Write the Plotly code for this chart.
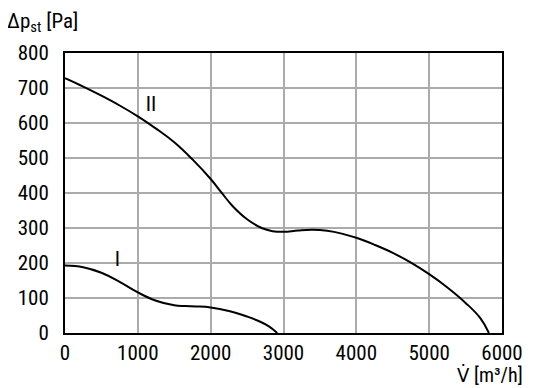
import plotly.graph_objects as go

# Curve II
x2 = [0, 250, 500, 750, 1000, 1250, 1500, 1750, 2000, 2150, 2300, 2500, 2700, 2850, 3000, 3200, 3400, 3600, 3800, 4000, 4250, 4500, 4750, 5000, 5250, 5500, 5700, 5820]
y2 = [728, 704, 678, 650, 619, 584, 545, 496, 440, 401, 363, 325, 300, 291, 289, 293, 295, 292, 284, 272, 252, 229, 201, 168, 130, 86, 43, 0]
# Curve I
x1 = [0, 250, 500, 750, 1000, 1250, 1500, 1650, 1800, 2000, 2250, 2500, 2650, 2800, 2914]
y1 = [193, 188, 172, 146, 116, 92, 79, 77, 76, 73, 63, 47, 35, 19, 0]

curve_labels = ["II", "I"]
label_x = [1181, 718]
label_y = [650, 206]

xticks = [0, 1000, 2000, 3000, 4000, 5000, 6000]
yticks = [0, 100, 200, 300, 400, 500, 600, 700, 800]

FONT = "Liberation Sans Narrow, Roboto Condensed, DejaVu Sans Condensed, Arial Narrow, sans-serif"
FS = 21

fig = go.Figure()
line_style = dict(color="black", width=2, shape="spline", smoothing=1.2)
fig.add_trace(go.Scatter(x=x2, y=y2, mode="lines", line=line_style, showlegend=False))
fig.add_trace(go.Scatter(x=x1, y=y1, mode="lines", line=line_style, showlegend=False))
fig.add_trace(go.Scatter(x=label_x, y=label_y, mode="text", text=curve_labels,
                         textfont=dict(family=FONT, size=FS, color="black"), showlegend=False))

axis_common = dict(showgrid=True, gridcolor="#ababab", gridwidth=1.5, zeroline=False,
                   showline=True, linecolor="black", linewidth=2, mirror=True,
                   ticks="", automargin=False,
                   tickfont=dict(family=FONT, size=FS, color="black"))
fig.update_xaxes(range=[0, 6000], tickvals=xticks, ticktext=[str(t) for t in xticks],
                 ticklabelstandoff=0, **axis_common)
fig.update_yaxes(range=[0, 800], tickvals=yticks, ticktext=[str(t) for t in yticks],
                 ticklabelstandoff=10, **axis_common)

fig.add_annotation(text="Δp<sub>st</sub> [Pa]", xref="paper", yref="paper", x=-0.137, y=1.0, yshift=31,
                   xanchor="left", yanchor="middle", showarrow=False,
                   font=dict(family=FONT, size=FS, color="black"))
fig.add_annotation(text="V̇ [m³/h]", xref="paper", yref="paper", x=1.0526, y=0, yshift=-42,
                   xanchor="right", yanchor="middle", showarrow=False,
                   font=dict(family=FONT, size=20, color="black"))

# page body has an 8px default margin; compensate so the plot area lands where the reference's does
fig.update_layout(width=528, height=380, margin=dict(l=57, r=34, t=45, b=55, pad=0),
                  plot_bgcolor="white", paper_bgcolor="white")
fig.write_html("out.html")
